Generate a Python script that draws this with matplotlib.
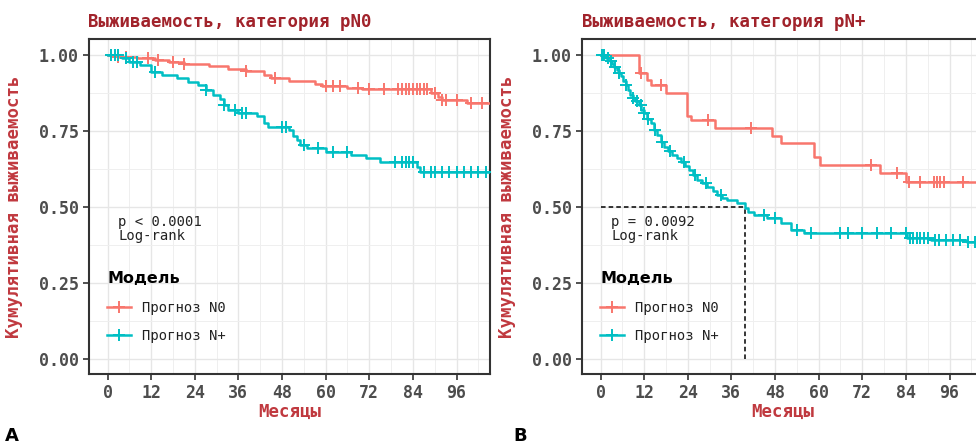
import numpy as np
import matplotlib
matplotlib.use("Agg")
import matplotlib.pyplot as plt
from matplotlib.lines import Line2D

# ---------------- data ----------------
# panel A: category pN0
a_n0_t = [0, 3, 8, 13, 17, 21, 28, 33, 38, 43, 45, 50, 57, 59, 66, 70, 89, 91, 92, 99, 106]
a_n0_s = [1.0, 0.995, 0.99, 0.983, 0.977, 0.97, 0.963, 0.955, 0.947, 0.935, 0.923, 0.915,
          0.905, 0.898, 0.892, 0.887, 0.875, 0.862, 0.853, 0.843, 0.843]
a_n0_cens = [1, 3, 5, 11, 14, 18, 21, 38, 46, 60, 62, 64, 69, 72, 76, 80, 81, 82, 83, 84,
             85, 86, 87, 88, 90, 92, 93, 96, 100, 103]

a_np_t = [0, 4, 6, 9, 12, 15, 19, 22, 25, 27, 29, 31, 32, 33, 36, 41, 43, 44, 50, 51, 52,
          53, 55, 60, 67, 71, 75, 85, 86, 106]
a_np_s = [1.0, 0.989, 0.978, 0.967, 0.945, 0.934, 0.923, 0.912, 0.9, 0.885, 0.87, 0.855,
          0.835, 0.82, 0.81, 0.798, 0.775, 0.762, 0.752, 0.735, 0.72, 0.705, 0.695, 0.682,
          0.67, 0.66, 0.649, 0.633, 0.616, 0.616]
a_np_cens = [1, 2, 3, 5, 7, 8, 13, 27, 32, 35, 37, 38, 48, 49, 54, 58, 62, 66, 79, 81, 82,
             83, 84, 87, 89, 90, 92, 94, 96, 98, 100, 102, 104]

# panel B: category pN+
b_n0_t = [0, 10.5, 12.7, 14, 18, 23.8, 24.8, 31.6, 47.2, 49.5, 58.7, 60.5, 77, 84, 108]
b_n0_s = [1.0, 0.94, 0.918, 0.90, 0.874, 0.80, 0.786, 0.759, 0.735, 0.71, 0.666, 0.638,
          0.611, 0.583, 0.583]
b_n0_cens = [11, 16.5, 29.5, 41.3, 74.3, 81.6, 84.8, 88, 91.7, 92.6, 93.5, 94.4, 99.6]

b_np_t = [0, 1.5, 2.5, 3.2, 3.8, 4.5, 5.0, 5.5, 6.2, 6.9, 7.5, 8.2, 8.8, 9.5, 10.5, 11.2,
          11.9, 12.8, 13.8, 14.6, 15.6, 16.5, 17.4, 18.5, 19.7, 21, 22, 23.2, 24.3, 25.5,
          26.6, 28, 29.4, 30.8, 32.1, 33.5, 34.9, 37.6, 39.6, 40.5, 42.2, 45.9, 49.5, 52.3,
          55.9, 84.4, 91, 100.9, 108]
b_np_s = [1.0, 0.99, 0.98, 0.97, 0.96, 0.95, 0.94, 0.93, 0.915, 0.90, 0.885, 0.87, 0.86,
          0.85, 0.835, 0.82, 0.808, 0.79, 0.775, 0.755, 0.737, 0.715, 0.698, 0.685, 0.671,
          0.66, 0.649, 0.635, 0.622, 0.605, 0.589, 0.578, 0.567, 0.553, 0.539, 0.531, 0.523,
          0.512, 0.497, 0.485, 0.474, 0.463, 0.446, 0.424, 0.413, 0.397, 0.391, 0.385, 0.385]
b_np_cens = [0.5, 1, 2, 3, 4, 5, 7, 9, 10, 11, 12, 13, 15, 17, 19, 23, 26, 29, 33, 45, 48,
             54, 58, 66, 68, 72, 76, 80, 84, 85, 86, 87, 88, 89, 90, 92, 93, 95, 97, 99, 101, 103]

titles = ["Выживаемость, категория pN0", "Выживаемость, категория pN+"]
p_texts = ["p < 0.0001\nLog-rank", "p = 0.0092\nLog-rank"]
series_names = ["Прогноз N0", "Прогноз N+"]
median_b = 39.6

x_ticks = [0, 12, 24, 36, 48, 60, 72, 84, 96]
y_ticks = [0.0, 0.25, 0.5, 0.75, 1.0]

# ---------------- style ----------------
RED = "#F8766D"
CYAN = "#00BFC4"
TITLE_COL = "#A1232B"
LAB_COL = "#C0393F"
MONO = "DejaVu Sans Mono"

W, H = 976, 444
fig = plt.figure(figsize=(W / 100, H / 100), dpi=100)


def draw_curve(ax, t, s, cens, color):
    t = np.array(t, dtype=float)
    s = np.array(s, dtype=float)
    ax.step(t, s, where="post", color=color, lw=1.8, zorder=3)
    c = np.array(cens, dtype=float)
    idx = np.searchsorted(t, c, side="right") - 1
    ax.plot(c, s[idx], ls="none", marker="+", ms=8.5, mew=1.4, color=color, zorder=4)


def setup(ax, k):
    ax.set_xlim(-5.1, 105.2)
    ax.set_ylim(-0.05, 1.053)
    ax.set_xticks(x_ticks)
    ax.set_yticks(y_ticks)
    ax.set_yticklabels(["0.00", "0.25", "0.50", "0.75", "1.00"])
    ax.set_xticks(np.arange(6, 106, 12), minor=True)
    ax.set_yticks([0.125, 0.375, 0.625, 0.875], minor=True)
    ax.grid(True, which="major", color="#E6E6E6", lw=1.0, zorder=0)
    ax.grid(True, which="minor", color="#EFEFEF", lw=0.7, zorder=0)
    ax.tick_params(which="minor", length=0)
    ax.tick_params(which="major", length=4, width=1.2, color="#333333",
                   labelcolor="#4D4D4D", labelsize=12)
    for lab in ax.get_xticklabels() + ax.get_yticklabels():
        lab.set_fontfamily(MONO)
        lab.set_fontweight("bold")
    for sp in ax.spines.values():
        sp.set_color("#333333")
        sp.set_linewidth(1.5)
    ax.set_axisbelow(True)
    ax.set_xlabel("Месяцы", family=MONO, fontweight="bold", fontsize=12.5, color=LAB_COL)
    ax.set_ylabel("Кумулятивная выживаемость", family=MONO, fontweight="bold",
                  fontsize=12.5, color=LAB_COL)
    ax.xaxis.set_label_coords(0.5, -0.085)
    ax.yaxis.set_label_coords(-0.165, 0.5)
    # p-value annotation, placed in data units like survminer does
    ax.text(3.0, 0.472, p_texts[k], family=MONO, fontsize=10, color="#222222",
            va="top", ha="left", linespacing=0.95)
    handles = [Line2D([], [], color=RED, lw=1.8, marker="+", ms=8.5, mew=1.4),
               Line2D([], [], color=CYAN, lw=1.8, marker="+", ms=8.5, mew=1.4)]
    leg = ax.legend(handles, series_names, title="Модель", loc="upper left",
                    bbox_to_anchor=(0.032, 0.324), frameon=False,
                    prop={"family": MONO, "size": 10},
                    title_fontproperties={"family": "DejaVu Sans", "weight": "bold", "size": 11.5},
                    handlelength=1.7, handletextpad=0.8, labelspacing=1.05, borderaxespad=0)
    leg._legend_box.align = "left"
    for txt in leg.get_texts():
        txt.set_color("#222222")


ax_w = 401 / W
ax_h = 335 / H
ax_a = fig.add_axes([89 / W, 1 - 374 / H, ax_w, ax_h])
ax_b = fig.add_axes([582 / W, 1 - 374 / H, ax_w, ax_h])

draw_curve(ax_a, a_n0_t, a_n0_s, a_n0_cens, RED)
draw_curve(ax_a, a_np_t, a_np_s, a_np_cens, CYAN)
draw_curve(ax_b, b_n0_t, b_n0_s, b_n0_cens, RED)
draw_curve(ax_b, b_np_t, b_np_s, b_np_cens, CYAN)

# median survival guide in panel B
ax_b.plot([0, median_b], [0.5, 0.5], ls=(0, (3, 2)), color="black", lw=1.1, zorder=2)
ax_b.plot([median_b, median_b], [0, 0.5], ls=(0, (3, 2)), color="black", lw=1.1, zorder=2)

setup(ax_a, 0)
setup(ax_b, 1)

fig.text(88 / W, 1 - 27 / H, titles[0], family=MONO, fontweight="bold", fontsize=12.5,
         color=TITLE_COL, va="baseline", ha="left")
fig.text(582 / W, 1 - 27 / H, titles[1], family=MONO, fontweight="bold", fontsize=12.5,
         color=TITLE_COL, va="baseline", ha="left")
fig.text(5 / W, 1 - 441 / H, "A", fontweight="bold", fontsize=13, va="baseline")
fig.text(513 / W, 1 - 441 / H, "B", fontweight="bold", fontsize=13, va="baseline")

fig.savefig("out.png", dpi=100)
